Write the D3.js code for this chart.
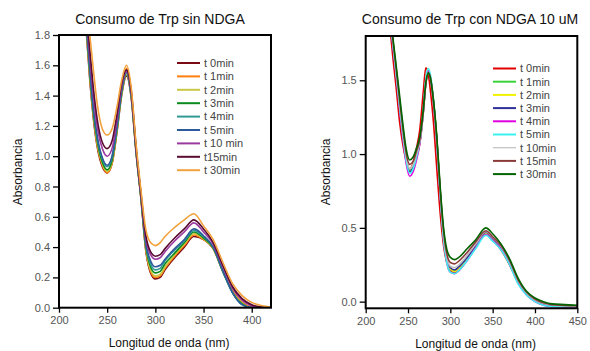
<!DOCTYPE html>
<html>
<head>
<meta charset="utf-8">
<script src="https://cdn.jsdelivr.net/npm/d3@7"></script>
<style>
  body { margin: 0; background: #fff; }
  svg { font-family: "Liberation Sans", Arial, sans-serif; }
</style>
</head>
<body>
<svg id="chart" width="590" height="351"></svg>
<script>
// ---- left panel: sin NDGA ----
const waveA = [228, 232, 236, 240, 245, 250, 255, 260, 265, 270, 275, 280, 285, 290, 295, 300, 305, 310, 320, 330, 340, 350, 360, 370, 380, 390, 400, 410, 420];
const labelsA = ["t 0min", "t 1min", "t 2min", "t 3min", "t 4min", "t 5min", "t 10 min", "t15min", "t 30min"];
const colorsA = ["#7a0a14", "#ff7f0e", "#c8c844", "#0a8a1e", "#2f9a96", "#2c5a9a", "#9a3aa0", "#5a0c30", "#f2a23c"];
const seriesA = [
  [1.85, 1.50, 1.23, 1.05, 0.93, 0.89, 0.95, 1.15, 1.40, 1.53, 1.38, 1.02, 0.72, 0.38, 0.23, 0.19, 0.20, 0.25, 0.33, 0.40, 0.47, 0.45, 0.39, 0.24, 0.11, 0.035, 0.003, 0.0, 0.0],
  [1.87, 1.52, 1.25, 1.06, 0.94, 0.89, 0.95, 1.16, 1.42, 1.58, 1.42, 1.04, 0.73, 0.39, 0.24, 0.20, 0.21, 0.26, 0.34, 0.41, 0.48, 0.45, 0.39, 0.24, 0.11, 0.035, 0.003, 0.0, 0.0],
  [1.88, 1.53, 1.26, 1.07, 0.95, 0.90, 0.96, 1.16, 1.41, 1.54, 1.39, 1.03, 0.73, 0.40, 0.25, 0.21, 0.22, 0.27, 0.35, 0.42, 0.49, 0.455, 0.39, 0.24, 0.105, 0.03, 0.0, 0.0, 0.0],
  [1.89, 1.55, 1.27, 1.09, 0.96, 0.91, 0.97, 1.17, 1.42, 1.55, 1.40, 1.03, 0.73, 0.41, 0.27, 0.23, 0.24, 0.29, 0.36, 0.43, 0.50, 0.46, 0.395, 0.24, 0.10, 0.025, 0.0, 0.0, 0.0],
  [1.90, 1.57, 1.29, 1.11, 0.98, 0.93, 0.99, 1.18, 1.43, 1.55, 1.40, 1.04, 0.74, 0.42, 0.29, 0.25, 0.26, 0.31, 0.38, 0.44, 0.51, 0.47, 0.40, 0.24, 0.10, 0.02, 0.0, 0.0, 0.0],
  [1.91, 1.58, 1.30, 1.12, 0.99, 0.94, 1.00, 1.19, 1.44, 1.56, 1.41, 1.04, 0.74, 0.43, 0.31, 0.27, 0.28, 0.32, 0.39, 0.45, 0.52, 0.475, 0.40, 0.245, 0.10, 0.02, 0.0, 0.0, 0.0],
  [1.95, 1.65, 1.38, 1.18, 1.05, 1.00, 1.05, 1.23, 1.46, 1.56, 1.42, 1.05, 0.75, 0.46, 0.35, 0.32, 0.33, 0.37, 0.44, 0.50, 0.56, 0.50, 0.42, 0.27, 0.13, 0.05, 0.012, 0.002, 0.0],
  [1.98, 1.70, 1.43, 1.23, 1.09, 1.05, 1.10, 1.27, 1.48, 1.57, 1.43, 1.06, 0.76, 0.48, 0.37, 0.34, 0.35, 0.39, 0.46, 0.52, 0.58, 0.52, 0.43, 0.28, 0.14, 0.06, 0.02, 0.005, 0.0],
  [2.05, 1.80, 1.55, 1.33, 1.18, 1.14, 1.18, 1.32, 1.50, 1.60, 1.45, 1.08, 0.78, 0.52, 0.43, 0.41, 0.43, 0.47, 0.53, 0.58, 0.62, 0.54, 0.45, 0.30, 0.16, 0.08, 0.035, 0.015, 0.005]
];
const xTicksA = [200, 250, 300, 350, 400];
const yTicksA = [0.0, 0.2, 0.4, 0.6, 0.8, 1.0, 1.2, 1.4, 1.6, 1.8];

// ---- right panel: con NDGA 10 uM ----
const waveB = [228, 232, 236, 240, 244, 248, 252, 256, 260, 264, 268, 271, 274, 277, 280, 284, 288, 292, 296, 300, 305, 310, 320, 330, 342, 350, 360, 370, 380, 390, 400, 410, 420, 435, 450];
const labelsB = ["t 0min", "t 1min", "t 2min", "t 3min", "t 4min", "t 5min", "t 10min", "t 15min", "t 30min"];
const colorsB = ["#e00000", "#3ad43a", "#f2f200", "#30309a", "#e000e0", "#3af0f0", "#c0c0c0", "#8b3a3a", "#006400"];
const seriesB = [
  [1.90, 1.66, 1.45, 1.22, 1.06, 0.95, 0.90, 0.94, 1.04, 1.17, 1.42, 1.585, 1.54, 1.40, 1.22, 0.90, 0.60, 0.38, 0.26, 0.21, 0.195, 0.21, 0.29, 0.37, 0.47, 0.42, 0.35, 0.25, 0.13, 0.05, 0.005, -0.02, -0.025, -0.03, -0.03],
  [2.00, 1.76, 1.55, 1.34, 1.14, 0.97, 0.89, 0.92, 0.99, 1.08, 1.28, 1.48, 1.56, 1.50, 1.36, 1.10, 0.74, 0.44, 0.28, 0.22, 0.21, 0.23, 0.30, 0.38, 0.47, 0.43, 0.37, 0.27, 0.14, 0.06, 0.01, -0.015, -0.025, -0.03, -0.03],
  [2.00, 1.76, 1.55, 1.34, 1.13, 0.96, 0.88, 0.91, 0.98, 1.08, 1.28, 1.48, 1.56, 1.50, 1.36, 1.10, 0.74, 0.44, 0.28, 0.22, 0.205, 0.225, 0.295, 0.375, 0.465, 0.425, 0.365, 0.265, 0.135, 0.055, 0.005, -0.02, -0.028, -0.032, -0.032],
  [1.99, 1.75, 1.54, 1.33, 1.13, 0.96, 0.88, 0.91, 0.98, 1.08, 1.28, 1.48, 1.56, 1.50, 1.36, 1.09, 0.74, 0.45, 0.29, 0.23, 0.215, 0.235, 0.30, 0.38, 0.47, 0.43, 0.37, 0.27, 0.14, 0.055, 0.008, -0.018, -0.027, -0.03, -0.032],
  [1.98, 1.74, 1.53, 1.31, 1.10, 0.93, 0.85, 0.88, 0.96, 1.07, 1.28, 1.48, 1.56, 1.50, 1.35, 1.08, 0.72, 0.42, 0.26, 0.20, 0.19, 0.21, 0.28, 0.365, 0.455, 0.415, 0.355, 0.255, 0.125, 0.045, 0.0, -0.025, -0.035, -0.038, -0.038],
  [1.99, 1.75, 1.54, 1.32, 1.12, 0.95, 0.87, 0.90, 0.98, 1.09, 1.30, 1.51, 1.58, 1.52, 1.37, 1.09, 0.73, 0.42, 0.26, 0.20, 0.19, 0.21, 0.28, 0.36, 0.45, 0.41, 0.35, 0.25, 0.12, 0.045, 0.0, -0.025, -0.033, -0.035, -0.035],
  [2.00, 1.77, 1.56, 1.35, 1.15, 0.98, 0.90, 0.93, 1.00, 1.09, 1.28, 1.47, 1.55, 1.50, 1.36, 1.10, 0.75, 0.46, 0.30, 0.24, 0.23, 0.25, 0.315, 0.39, 0.475, 0.435, 0.375, 0.275, 0.145, 0.06, 0.012, -0.012, -0.022, -0.028, -0.03],
  [2.02, 1.78, 1.58, 1.37, 1.17, 1.00, 0.93, 0.95, 1.02, 1.10, 1.29, 1.47, 1.55, 1.50, 1.36, 1.11, 0.76, 0.48, 0.32, 0.265, 0.256, 0.275, 0.335, 0.405, 0.48, 0.44, 0.38, 0.28, 0.15, 0.065, 0.018, -0.008, -0.02, -0.025, -0.028],
  [2.05, 1.80, 1.60, 1.40, 1.20, 1.03, 0.96, 0.98, 1.04, 1.12, 1.30, 1.48, 1.55, 1.50, 1.37, 1.12, 0.78, 0.50, 0.35, 0.30, 0.285, 0.30, 0.36, 0.42, 0.50, 0.46, 0.39, 0.29, 0.16, 0.07, 0.025, 0.0, -0.015, -0.02, -0.025]
];
const xTicksB = [200, 250, 300, 350, 400, 450];
const yTicksB = [0.0, 0.5, 1.0, 1.5];

const svg = d3.select("#chart");

function drawPanel(p) {
  const x = d3.scaleLinear().domain(p.xDomain).range([p.left, p.right]);
  const y = d3.scaleLinear().domain(p.yDomain).range([p.bottom, p.top]);
  const g = svg.append("g");

  g.append("clipPath").attr("id", p.id + "-clip")
    .append("rect")
    .attr("x", p.left).attr("y", p.top)
    .attr("width", p.right - p.left).attr("height", p.bottom - p.top);

  const line = d3.line()
    .x(d => x(d[0]))
    .y(d => y(d[1]))
    .curve(d3.curveMonotoneX);

  g.append("g").attr("clip-path", "url(#" + p.id + "-clip)")
    .selectAll("path")
    .data(p.series)
    .join("path")
    .attr("d", s => line(p.wave.map((w, i) => [w, s[i]])))
    .attr("fill", "none")
    .attr("stroke", (s, i) => p.colors[i])
    .attr("stroke-width", 1.6);

  // axes
  const xAxis = g.append("g")
    .attr("transform", "translate(0," + p.bottom + ")")
    .call(d3.axisBottom(x).tickValues(p.xTicks).tickSize(5).tickSizeOuter(0).tickPadding(4).tickFormat(d3.format("d")));
  const yAxis = g.append("g")
    .attr("transform", "translate(" + p.left + ",0)")
    .call(d3.axisLeft(y).tickValues(p.yTicks).tickSize(6).tickSizeOuter(0).tickPadding(3).tickFormat(d3.format(".1f")));
  [xAxis, yAxis].forEach(a => {
    a.select(".domain").remove();
    a.selectAll("line").attr("stroke", "#000").attr("stroke-width", 1.3);
    a.selectAll("text").attr("fill", "#555").style("font-size", "11px")
      .style("font-family", "'Liberation Sans', Arial, sans-serif");
  });

  // frame
  g.append("rect")
    .attr("x", p.left).attr("y", p.top)
    .attr("width", p.right - p.left).attr("height", p.bottom - p.top)
    .attr("fill", "none").attr("stroke", "#000").attr("stroke-width", 2);

  // titles
  g.append("text")
    .attr("x", p.titleX).attr("y", p.titleY)
    .attr("text-anchor", "middle").style("font-size", "14px").attr("fill", "#111")
    .text(p.title);
  g.append("text")
    .attr("x", (p.left + p.right) / 2 + 4).attr("y", p.xLabelY)
    .attr("text-anchor", "middle").style("font-size", "12px").attr("fill", "#111")
    .text("Longitud de onda (nm)");
  g.append("text")
    .attr("transform", "translate(" + p.yLabelX + ",172) rotate(-90)")
    .attr("text-anchor", "middle").style("font-size", "12px").attr("fill", "#111")
    .text("Absorbancia");

  // legend
  const leg = g.append("g").selectAll("g")
    .data(p.labels)
    .join("g")
    .attr("transform", (d, i) => "translate(" + p.legX + "," + (p.legY + i * p.legStep) + ")");
  leg.append("line")
    .attr("x1", 0).attr("x2", 23)
    .attr("stroke", (d, i) => p.colors[i])
    .attr("stroke-width", (d, i) => i === 6 && p.id === "b" ? 1.2 : 2);
  leg.append("text")
    .attr("x", 27).attr("dy", "0.35em")
    .style("font-size", "11px").attr("fill", "#444")
    .text(d => d);
}

drawPanel({
  id: "a", wave: waveA, series: seriesA, colors: colorsA, labels: labelsA,
  xDomain: [200, 420], yDomain: [0, 1.8],
  left: 59, right: 271, top: 35, bottom: 307.7,
  xTicks: xTicksA, yTicks: yTicksA,
  title: "Consumo de Trp sin NDGA", titleX: 160, titleY: 24,
  xLabelY: 347, yLabelX: 22,
  legX: 177, legY: 63, legStep: 13.4
});

drawPanel({
  id: "b", wave: waveB, series: seriesB, colors: colorsB, labels: labelsB,
  xDomain: [200, 450], yDomain: [-0.045, 1.8],
  left: 365.7, right: 577.3, top: 36, bottom: 308.3,
  xTicks: xTicksB, yTicks: yTicksB,
  title: "Consumo de Trp con NDGA 10 uM", titleX: 470, titleY: 23.5,
  xLabelY: 347.5, yLabelX: 330,
  legX: 493, legY: 68.5, legStep: 13.2
});
</script>
</body>
</html>
